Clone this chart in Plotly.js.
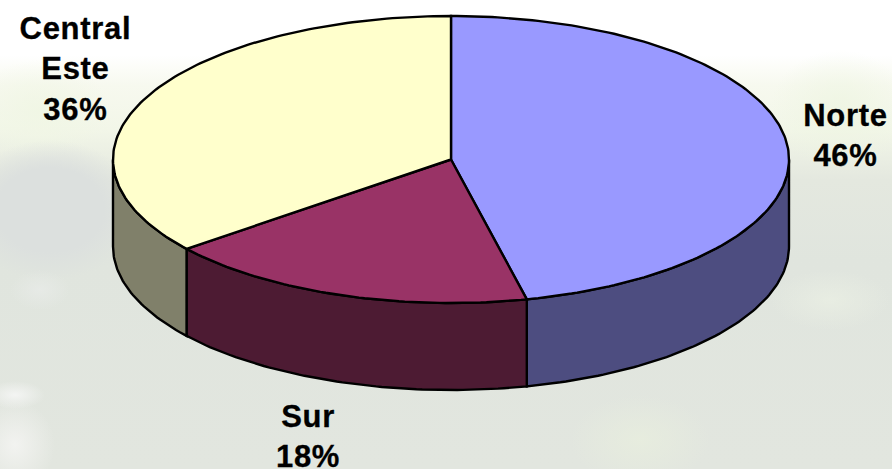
<!DOCTYPE html>
<html><head><meta charset="utf-8">
<script src="https://cdn.plot.ly/plotly-3.0.1.min.js"></script>
<style>
html,body{margin:0;padding:0;width:892px;height:469px;overflow:hidden;background:#fff}
#bg{position:absolute;left:0;top:0;width:892px;height:469px;background:
 radial-gradient(ellipse 30px 14px at 15px 395px,rgba(248,248,248,.8),rgba(248,248,248,0)),
 radial-gradient(ellipse 40px 45px at 15px 445px,rgba(245,245,243,.85),rgba(245,245,243,0)),
 radial-gradient(ellipse 70px 45px at 640px 440px,rgba(232,238,222,.8),rgba(232,238,222,0)),
 radial-gradient(ellipse 60px 30px at 830px 300px,rgba(235,240,228,.7),rgba(235,240,228,0)),
 radial-gradient(ellipse 30px 20px at 40px 290px,rgba(232,235,232,.8),rgba(232,235,232,0)),
 radial-gradient(ellipse 90px 70px at 50px 210px,#dce0de 60%,rgba(220,224,222,0)),
 radial-gradient(ellipse 70px 60px at 840px 110px,rgba(238,245,226,.9),rgba(238,245,226,0)),
 radial-gradient(ellipse 70px 50px at 40px 110px,rgba(240,246,228,.9),rgba(240,246,228,0)),
 linear-gradient(to bottom,#fff 0,#fff 55px,#f7f9ef 85px,#f2f6e8 130px,#e4e8df 180px,#e0e5de 260px,#e2e6df 469px);}
#chart{position:absolute;left:0;top:0;width:892px;height:469px}
#chart .annotation-text{letter-spacing:.7px;stroke:#000;stroke-width:.3px}
</style></head><body>
<div id="bg"></div><div id="chart"></div>
<script>
const categories = ['Norte', 'Sur', 'Central Este'];
const shares = [46.4, 17.9, 35.7];
const tickLabels = ['Norte<br>46%', 'Sur<br>18%', 'Central<br>Este<br>36%'];
const topColors = ['#9999FF', '#993366', '#FFFFCC'];
const sideColors = ['#4D4D80', '#4D1B33', '#80806A'];

const cx = 451, cy = 159.5, rx = 338, ry = 143.5, depth = 87;
const pt = (deg, dy) => [cx + rx * Math.sin(deg * Math.PI / 180), cy - ry * Math.cos(deg * Math.PI / 180) + dy];
function arc(a, b, dy) {
  const out = [], n = Math.max(2, Math.ceil(Math.abs(b - a)));
  for (let i = 0; i <= n; i++) out.push(pt(a + (b - a) * i / n, dy));
  return out;
}
function poly(points, fill, name) {
  return {type: 'scatter', mode: 'lines', x: points.map(p => p[0]), y: points.map(p => p[1]),
    fill: 'toself', fillcolor: fill, line: {color: '#000', width: 2.4}, name: name, hoverinfo: 'skip', showlegend: false};
}
const total = shares.reduce((a, b) => a + b, 0);
const sides = [], tops = [];
let start = 0;
shares.forEach((v, i) => {
  const end = start + v / total * 360;
  const a = Math.max(start, 90), b = Math.min(end, 270);
  if (b > a) sides.push(poly(arc(a, b, 0).concat(arc(b, a, depth), [pt(a, 0)]), sideColors[i], categories[i]));
  tops.push(poly([[cx, cy]].concat(arc(start, end, 0), [[cx, cy]]), topColors[i], categories[i]));
  start = end;
});
const labelFont = {family: 'Liberation Sans, Arial, sans-serif', size: 31, color: '#000'};
const labelX = [845, 308, 75];
const labelY = [135.5, 436, 68.5];
const annotations = tickLabels.map((t, i) => ({
  x: labelX[i], y: labelY[i], xref: 'x', yref: 'y', text: '<b>' + t.replace(/<br>/g, '</b><br><b>') + '</b>',
  showarrow: false, font: labelFont, align: 'center', xanchor: 'center', yanchor: 'middle'
}));
Plotly.newPlot('chart', sides.concat(tops), {
  width: 892, height: 469, margin: {l: 0, r: 0, t: 0, b: 0},
  paper_bgcolor: 'rgba(0,0,0,0)', plot_bgcolor: 'rgba(0,0,0,0)',
  xaxis: {range: [0, 892], visible: false, fixedrange: true},
  yaxis: {range: [469, 0], visible: false, fixedrange: true},
  annotations: annotations, showlegend: false
}, {displayModeBar: false, staticPlot: true});
</script></body></html>
